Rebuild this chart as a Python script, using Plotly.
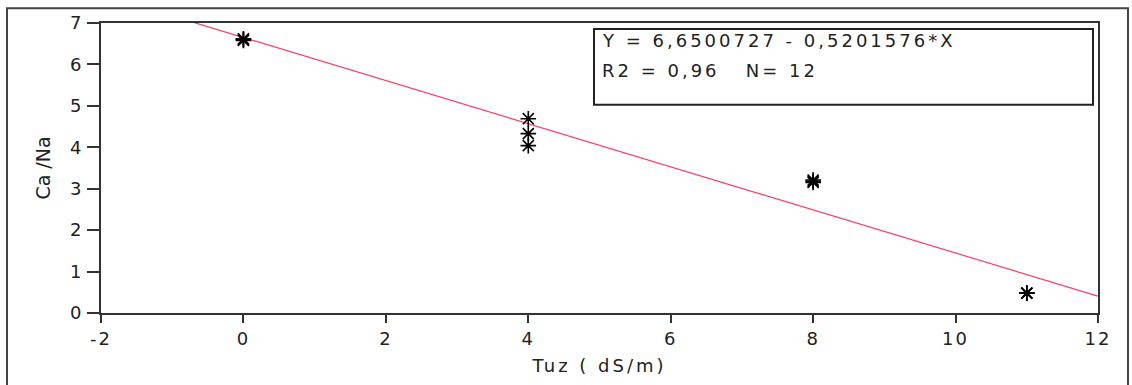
import plotly.graph_objects as go

# Data
tuz = [0, 0, 0, 4, 4, 4, 8, 8, 8, 11, 11, 11]
ca_na = [6.58, 6.60, 6.62, 4.69, 4.33, 4.04, 3.15, 3.18, 3.21, 0.48, 0.48, 0.48]
intercept = 6.6500727
slope = -0.5201576
line_x = [-2, 12]
line_y = [intercept + slope * v for v in line_x]
eq_text = "Y = 6,6500727 - 0,5201576*X"
stat_text = "R2 = 0,96   N= 12"
x_ticks = [-2, 0, 2, 4, 6, 8, 10, 12]
x_labels = ["-2", "0", "2", "4", "6", "8", "10", "12"]
y_ticks = [0, 1, 2, 3, 4, 5, 6, 7]
y_labels = ["0", "1", "2", "3", "4", "5", "6", "7"]
x_title = "Tuz ( dS/m)"
y_title = "Ca /Na"

TXT = "#222"
font = dict(family="DejaVu Sans, Liberation Sans, sans-serif", size=18, color=TXT)


def wide(s, ls=3):
    return '<span style="letter-spacing:%dpx">%s</span>' % (ls, s)


fig = go.Figure()
fig.add_trace(go.Scatter(x=line_x, y=line_y, mode="lines",
                         line=dict(color="#ff3a5c", width=1.2), hoverinfo="skip"))
fig.add_trace(go.Scatter(x=tuz, y=ca_na, mode="markers",
                         marker=dict(symbol="asterisk-open", size=13, color="black",
                                     line=dict(color="black", width=1.6))))

W, H = 1132, 385
L, R, T, B = 101, 1098, 19, 313
pw, ph = R - L, B - T


def px(xp):
    return (xp - L) / pw


def py(yp):
    return (B - yp) / ph


axis_common = dict(ticks="outside", tickwidth=2, tickcolor="#333", showline=True,
                   linewidth=2, linecolor="#333", mirror=True, showgrid=False,
                   zeroline=False, tickfont=font)

fig.update_layout(
    width=W, height=H,
    margin=dict(l=L, r=W - R, t=T, b=H - B),
    paper_bgcolor="white", plot_bgcolor="white",
    showlegend=False, font=font,
    xaxis=dict(range=[-2, 12], tickvals=x_ticks, ticktext=[wide(t, 2) for t in x_labels],
               ticklen=8, title=dict(text=wide(x_title, 3), font=font, standoff=12),
               **axis_common),
    yaxis=dict(range=[0, 7], tickvals=y_ticks, ticktext=[wide(t, 2) for t in y_labels],
               ticklen=12, title=dict(text=y_title, font=dict(font, size=19), standoff=14),
               **axis_common),
    shapes=[
        dict(type="rect", xref="paper", yref="paper",
             x0=px(7), x1=px(1128), y0=py(420), y1=py(4),
             line=dict(color="#444", width=2), layer="below"),
        dict(type="rect", xref="paper", yref="paper",
             x0=px(594), x1=px(1093), y0=py(102), y1=py(25),
             line=dict(color="#222", width=2), fillcolor="white"),
    ],
    annotations=[
        dict(text=wide(eq_text, 3), xref="paper", yref="paper", x=px(600), y=py(37),
             xanchor="left", yanchor="middle", showarrow=False, font=font),
        dict(text=wide(stat_text, 3), xref="paper", yref="paper", x=px(600), y=py(67),
             xanchor="left", yanchor="middle", showarrow=False, font=font),
    ],
)

fig.write_html("out.html", config={"displayModeBar": False},
               post_script="document.body.style.margin='0px';")
